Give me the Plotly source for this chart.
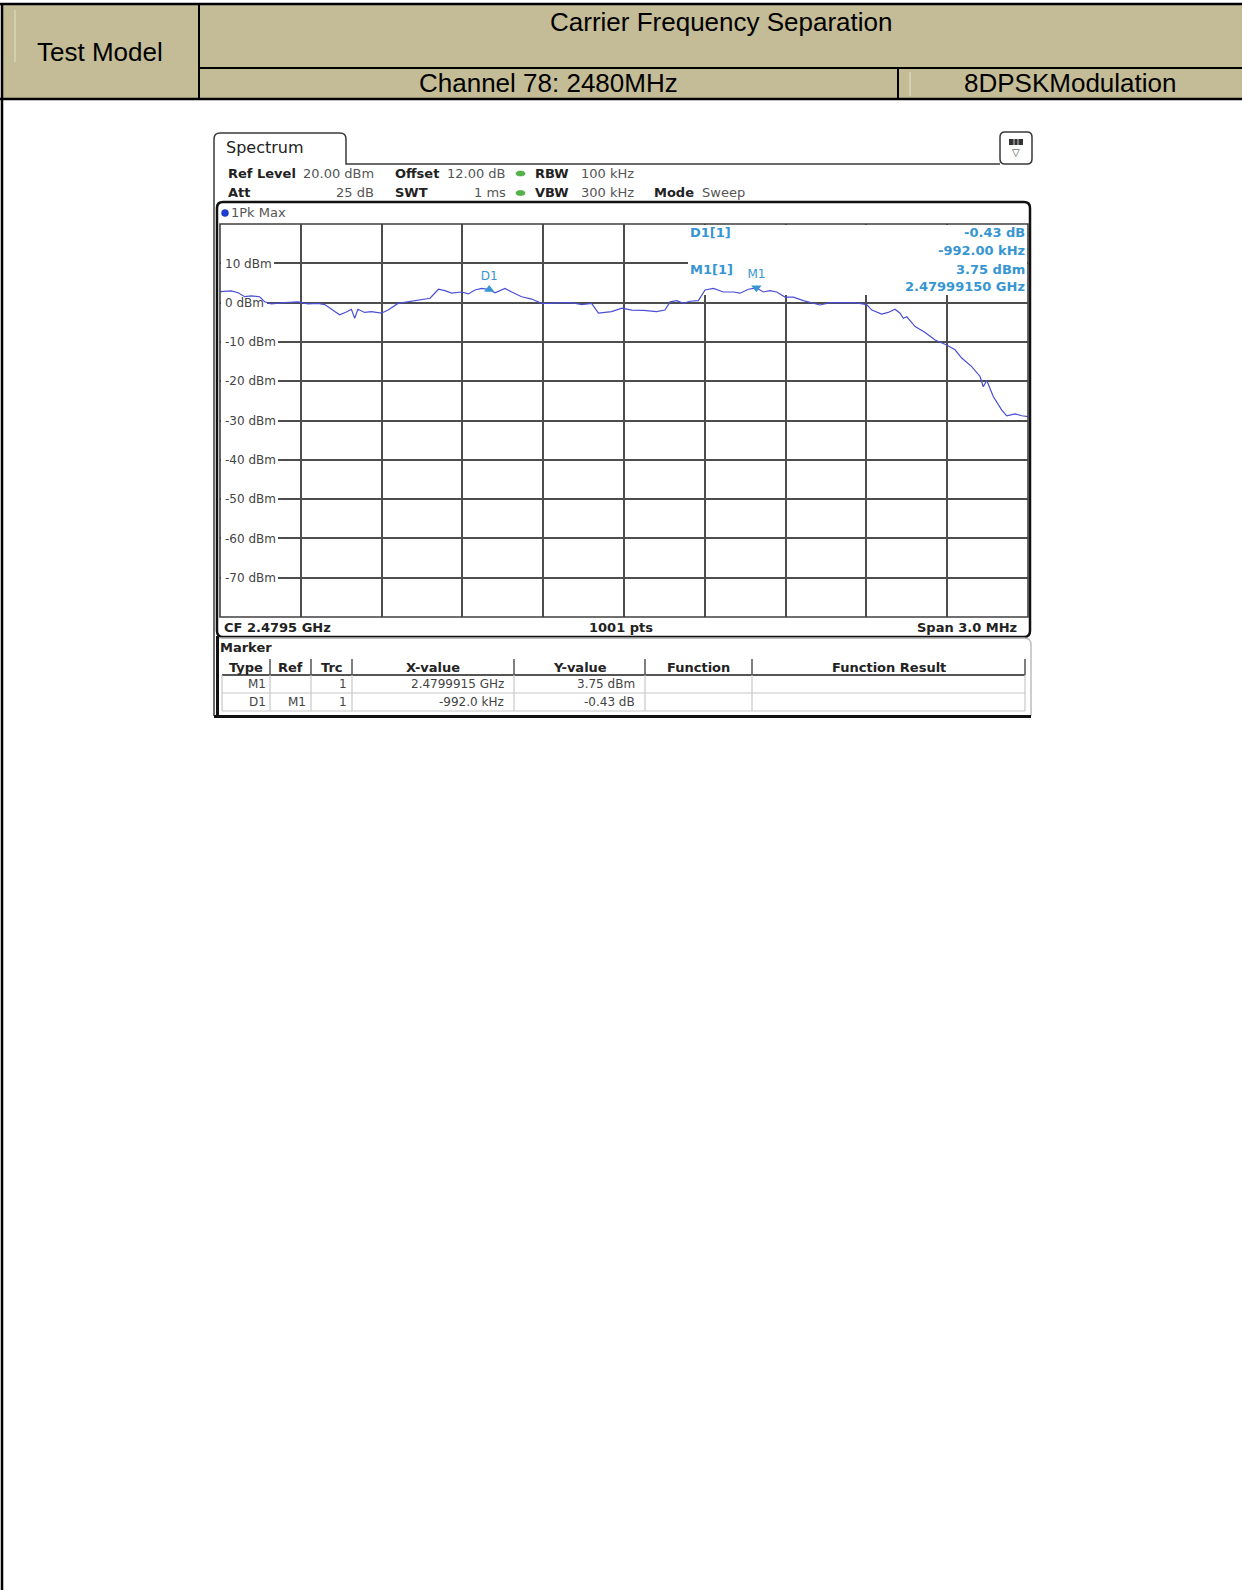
import plotly.graph_objects as go

W, H = 1242, 1590

# ---------------- data ----------------
freq_mhz = [2478.000, 2478.042, 2478.067, 2478.092, 2478.116, 2478.147, 2478.166, 2478.190,
            2478.240, 2478.290, 2478.327, 2478.364, 2478.389, 2478.413, 2478.444, 2478.469,
            2478.488, 2478.500, 2478.512, 2478.537, 2478.562, 2478.599, 2478.624, 2478.661,
            2478.698, 2478.735, 2478.772, 2478.780, 2478.811, 2478.835, 2478.860, 2478.897,
            2478.922, 2478.947, 2478.972, 2478.9995, 2479.021, 2479.058, 2479.083, 2479.120,
            2479.157, 2479.194, 2479.232, 2479.269, 2479.306, 2479.343, 2479.380, 2479.405,
            2479.429, 2479.454, 2479.492, 2479.529, 2479.572, 2479.621, 2479.652, 2479.671,
            2479.696, 2479.720, 2479.745, 2479.776, 2479.801, 2479.832, 2479.869, 2479.906,
            2479.931, 2479.962, 2479.9915, 2480.017, 2480.042, 2480.067, 2480.098, 2480.129,
            2480.166, 2480.197, 2480.228, 2480.265, 2480.302, 2480.358, 2480.401, 2480.420,
            2480.457, 2480.481, 2480.506, 2480.525, 2480.537, 2480.550, 2480.581, 2480.618,
            2480.655, 2480.698, 2480.729, 2480.754, 2480.791, 2480.822, 2480.834, 2480.847,
            2480.871, 2480.902, 2480.921, 2480.952, 2480.977, 2481.000]
level_dbm = [2.8, 3.0, 2.5, 1.5, 1.7, 1.5, 0.2, -0.3,
             0.0, 0.2, -0.3, -0.2, -0.5, -1.7, -3.1, -2.4,
             -1.7, -4.0, -1.7, -2.5, -2.3, -2.7, -1.9, -0.2,
             0.2, 0.5, 0.9, 1.1, 3.4, 3.05, 2.4, 2.7,
             2.2, 3.2, 3.6, 3.32, 2.5, 3.6, 2.7, 1.5,
             0.9, -0.2, -0.2, 0.0, 0.0, -0.5, -0.2, -2.7,
             -2.5, -2.3, -1.4, -1.9, -2.0, -2.3, -1.9, 0.2,
             0.5, -0.2, 0.35, 0.5, 3.2, 3.6, 2.7, 2.7,
             2.4, 3.4, 3.75, 2.7, 3.05, 2.7, 1.4, 1.4,
             0.5, 0.0, -0.6, 0.0, 0.0, 0.0, -0.5, -1.9,
             -2.9, -2.5, -1.7, -2.7, -4.0, -3.6, -6.1, -7.6,
             -9.5, -10.8, -12.0, -14.1, -16.3, -18.8, -21.4, -19.8,
             -23.9, -27.3, -28.8, -28.3, -28.8, -29.0]

center_mhz = 2479.5
span_mhz = 3.0
ref_level_dbm = 20
bottom_level_dbm = -80
x_div_mhz = 0.3
ytick_vals = [10, 0, -10, -20, -30, -40, -50, -60, -70]
ytick_text = ["10 dBm", "0 dBm", "-10 dBm", "-20 dBm", "-30 dBm", "-40 dBm", "-50 dBm", "-60 dBm", "-70 dBm"]

m1_freq_mhz = 2479.9915
m1_level_dbm = 3.75
d1_delta_mhz = -0.992
d1_delta_db = -0.43
marker_names = ["M1", "D1"]

header_left = "Test Model"
header_title = "Carrier Frequency Separation"
header_channel = "Channel 78: 2480MHz"
header_mod = "8DPSKModulation"

setting_row1 = [("Ref Level", "20.00 dBm"), ("Offset", "12.00 dB"), ("RBW", "100 kHz")]
setting_row2 = [("Att", "25 dB"), ("SWT", "1 ms"), ("VBW", "300 kHz"), ("Mode", "Sweep")]

info_left = ["D1[1]", "M1[1]"]
info_right = ["-0.43 dB", "-992.00 kHz", "3.75 dBm", "2.47999150 GHz"]

table_cols = ["Type", "Ref", "Trc", "X-value", "Y-value", "Function", "Function Result"]
table_rows = [["M1", "", "1", "2.4799915 GHz", "3.75 dBm", "", ""],
              ["D1", "M1", "1", "-992.0 kHz", "-0.43 dB", "", ""]]

# ---------------- helpers ----------------
PL, PR, PT, PB = 220, 1028, 224, 617   # plot area in pixels
x_start = center_mhz - span_mhz / 2
x_end = center_mhz + span_mhz / 2


def X(p):
    return p / W


def Y(p):
    return 1 - p / H


def DX(p):  # pixel -> x data (MHz), used only for white label masks
    return x_start + (p - PL) / (PR - PL) * span_mhz


def DY(p):  # pixel -> y data (dBm), used only for white label masks
    return ref_level_dbm - (p - PT) / (PB - PT) * (ref_level_dbm - bottom_level_dbm)


shapes = []
annotations = []


def line(x0, y0, x1, y1, color="#000", width=1, layer="above"):
    shapes.append(dict(type="line", xref="paper", yref="paper", x0=X(x0), y0=Y(y0),
                       x1=X(x1), y1=Y(y1), line=dict(color=color, width=width), layer=layer))


def rect(x0, y0, x1, y1, fill="rgba(0,0,0,0)", color=None, width=0, layer="above"):
    shapes.append(dict(type="rect", xref="paper", yref="paper", x0=X(x0), y0=Y(y0),
                       x1=X(x1), y1=Y(y1), fillcolor=fill,
                       line=dict(color=color or "rgba(0,0,0,0)", width=width), layer=layer))


def mask(x0, y0, x1, y1):
    shapes.append(dict(type="rect", xref="x", yref="y", x0=DX(x0), y0=DY(y1),
                       x1=DX(x1), y1=DY(y0), fillcolor="#ffffff",
                       line=dict(width=0, color="rgba(0,0,0,0)"), layer="between"))


def path(pts, color="#000", width=1, fill=None, layer="above", close=False):
    d = ""
    for p in pts:
        if p[0] in ("M", "L"):
            d += f"{p[0]} {X(p[1]):.6f},{Y(p[2]):.6f} "
        else:
            d += f"Q {X(p[1]):.6f},{Y(p[2]):.6f} {X(p[3]):.6f},{Y(p[4]):.6f} "
    if close:
        d += "Z"
    s = dict(type="path", xref="paper", yref="paper", path=d,
             line=dict(color=color, width=width), layer=layer)
    if fill:
        s["fillcolor"] = fill
    shapes.append(s)


def rrect(x0, y0, x1, y1, r, color, width, fill=None, layer="above"):
    pts = [("M", x0 + r, y0), ("L", x1 - r, y0), ("Q", x1, y0, x1, y0 + r),
           ("L", x1, y1 - r), ("Q", x1, y1, x1 - r, y1), ("L", x0 + r, y1),
           ("Q", x0, y1, x0, y1 - r), ("L", x0, y0 + r), ("Q", x0, y0, x0 + r, y0)]
    path(pts, color, width, fill, layer, close=True)


def txt(x, y, s, size=12, color="#000", family="DejaVu Sans", anchor="left", bold=False):
    annotations.append(dict(xref="paper", yref="paper", x=X(x), y=Y(y), text=(f"<b>{s}</b>" if bold else s),
                            showarrow=False, xanchor=anchor, yanchor="middle",
                            font=dict(size=size, color=color, family=family), borderpad=0))


# ---------------- page header table ----------------
KHAKI = "#C4BC96"
rect(3, 4, W, 99, fill=KHAKI, layer="below")
line(0, 4, W, 4, "#000", 2.5)
line(0, 99, W, 99, "#000", 2.5)
line(2, 4, 2, H, "#000", 2.5)
line(199, 4, 199, 99, "#000", 2)
line(199, 68, W, 68, "#000", 2)
line(898, 68, 898, 99, "#000", 2)
line(15, 10, 15, 62, "#E4E0D0", 1)
line(910, 72, 910, 96, "#E4E0D0", 1)

HF = "Liberation Sans, Arial, sans-serif"
txt(100, 52, header_left, 26, "#000", HF, "center")
txt(721, 22, header_title, 26, "#000", HF, "center")
txt(548, 83, header_channel, 26, "#000", HF, "center")
txt(1070, 83, header_mod, 26, "#000", HF, "center")

# ---------------- spectrum window chrome ----------------
DARK = "#3a3a3a"
path([("M", 214, 716), ("L", 214, 139), ("Q", 214, 133, 220, 133), ("L", 340, 133),
      ("Q", 346, 133, 346, 139), ("L", 346, 164), ("L", 1000, 164)], DARK, 1.5)
txt(225, 148, "Spectrum", 16, "#222")
rrect(1000, 132, 1032, 164, 5, DARK, 1.5, fill="#ffffff")
rect(1009, 139, 1023, 145, fill="#333333")
line(1014, 139, 1014, 145, "#cccccc", 1)
line(1018, 139, 1018, 145, "#cccccc", 1)
txt(1016, 153, "▽", 10, "#333", anchor="center")

LBL = "#222"
VAL = "#555"
R1, R2 = 173.5, 193
txt(227, R1, setting_row1[0][0], 13, LBL, bold=True)
txt(375, R1, setting_row1[0][1], 13, VAL, anchor="right")
txt(394, R1, setting_row1[1][0], 13, LBL, bold=True)
txt(507, R1, setting_row1[1][1], 13, VAL, anchor="right")
txt(534, R1, setting_row1[2][0], 13, LBL, bold=True)
txt(580, R1, setting_row1[2][1], 13, VAL)
txt(227, R2, setting_row2[0][0], 13, LBL, bold=True)
txt(375, R2, setting_row2[0][1], 13, VAL, anchor="right")
txt(394, R2, setting_row2[1][0], 13, LBL, bold=True)
txt(507, R2, setting_row2[1][1], 13, VAL, anchor="right")
txt(534, R2, setting_row2[2][0], 13, LBL, bold=True)
txt(580, R2, setting_row2[2][1], 13, VAL)
txt(653, R2, setting_row2[3][0], 13, LBL, bold=True)
txt(701, R2, setting_row2[3][1], 13, VAL)
for yy in (R1, R2):
    shapes.append(dict(type="circle", xref="paper", yref="paper", x0=X(516), x1=X(525),
                       y0=Y(yy - 2.5), y1=Y(yy + 2.5), fillcolor="#52b447",
                       line=dict(color="#3d8f35", width=0.5)))

# trace window frame
rrect(217, 202, 1030, 637, 6, "#111", 2.5)
shapes.append(dict(type="circle", xref="paper", yref="paper", x0=X(221.5), x1=X(228.5),
                   y0=Y(216.5), y1=Y(209.5), fillcolor="#1c3fd6", line=dict(color="#102a9a", width=0.5)))
txt(230, 213, "1Pk Max", 13, "#555")

# plot frame
rect(PL, PT, PR, PB, color="#404040", width=1.6)

# masks behind in-plot labels
mask(688, 225, 1027, 295)
label_widths = [47, 40, 51, 51, 51, 51, 51, 51, 51]
for v, wdt in zip(ytick_vals, label_widths):
    yp = PT + (ref_level_dbm - v) / (ref_level_dbm - bottom_level_dbm) * (PB - PT)
    mask(PL + 1, yp - 6, PL + 7 + wdt, yp + 6)

BLUE = "#3796d2"
txt(689, 233, info_left[0], 13, BLUE, bold=True)
txt(689, 270, info_left[1], 13, BLUE, bold=True)
for i, yy in enumerate([233, 251, 270, 287]):
    txt(1026, yy, info_right[i], 13, BLUE, anchor="right", bold=True)

txt(223, 627, f"CF {center_mhz / 1000:.4f} GHz", 13, "#222", bold=True)
txt(621, 627, "1001 pts", 13, "#222", anchor="center", bold=True)
txt(1018, 627, f"Span {span_mhz:.1f} MHz", 13, "#222", anchor="right", bold=True)

# marker panel
path([("M", 218, 638), ("L", 1024, 638), ("Q", 1031, 638, 1031, 645), ("L", 1031, 716)], "#bdbdbd", 1.5)
line(217.5, 636, 217.5, 717, "#111", 3)
line(214, 716.5, 1031, 716.5, "#111", 3)
txt(219, 647, "Marker", 13, "#222", bold=True)

col_edges = [222, 270, 311, 352, 514, 645, 752, 1025]
line(222, 675, 1025, 675, "#555", 2)
for xe in col_edges[1:]:
    line(xe, 659, xe, 675, "#555", 1.5)
for xe in col_edges:
    line(xe, 675, xe, 711, "#c8c8c8", 1.2)
line(222, 693, 1025, 693, "#c8c8c8", 1.2)
line(222, 711, 1025, 711, "#c8c8c8", 1.2)
for i, c in enumerate(table_cols):
    txt((col_edges[i] + col_edges[i + 1]) / 2, 667, c, 13, "#222", anchor="center", bold=True)
pads = [3, 4, 4, 9, 9, 6, 6]
for r, yy in zip(table_rows, [684, 702]):
    for i, c in enumerate(r):
        if c:
            txt(col_edges[i + 1] - pads[i], yy, c, 12, "#444", anchor="right")

# ---------------- traces ----------------
fig = go.Figure()
fig.add_trace(go.Scatter(x=freq_mhz, y=level_dbm, mode="lines",
                         line=dict(color="#4a4fd4", width=1.2), hoverinfo="skip"))

mk_x = [m1_freq_mhz, m1_freq_mhz + d1_delta_mhz]
mk_y = [m1_level_dbm, m1_level_dbm + d1_delta_db]
fig.add_trace(go.Scatter(x=mk_x, y=mk_y, mode="markers+text", text=marker_names,
                         textposition="top center",
                         textfont=dict(family="DejaVu Sans", size=12, color=BLUE),
                         marker=dict(symbol=["triangle-down", "triangle-up"], size=9, color=BLUE),
                         hoverinfo="skip"))

fig.update_layout(
    width=W, height=H, autosize=False,
    margin=dict(l=0, r=0, t=0, b=0),
    paper_bgcolor="#ffffff", plot_bgcolor="#ffffff",
    showlegend=False,
    xaxis=dict(domain=[X(PL), X(PR)], range=[x_start, x_end], tick0=x_start, dtick=x_div_mhz,
               showgrid=True, gridcolor="#4d4d4d", gridwidth=1.5, zeroline=False,
               showticklabels=False, ticks="", showline=False, fixedrange=True),
    yaxis=dict(domain=[Y(PB), Y(PT)], range=[bottom_level_dbm, ref_level_dbm],
               tickmode="array", tickvals=ytick_vals, ticktext=ytick_text,
               ticklabelposition="inside", ticklabelstandoff=2, ticks="", showgrid=True,
               gridcolor="#4d4d4d", gridwidth=1.5, zeroline=False, showline=False,
               layer="below traces",
               tickfont=dict(family="DejaVu Sans", size=12, color="#444"), fixedrange=True),
    shapes=shapes,
    annotations=annotations,
)

fig.write_html("out.html", config={"displayModeBar": False},
               post_script="document.body.style.margin='0';document.body.style.overflow='hidden';")
